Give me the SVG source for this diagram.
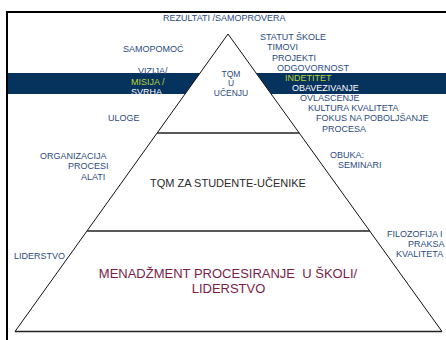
<svg xmlns="http://www.w3.org/2000/svg" width="446" height="340" viewBox="0 0 446 340">
<style>
.lbl{font-family:"Liberation Sans",Arial,sans-serif;font-size:9px;fill:#2b4b80}
.grn{fill:#b8d432}
.wht{fill:#ffffff}
.apex{font-family:"Liberation Sans",Arial,sans-serif;font-size:8.5px;fill:#2b4b80;text-anchor:middle}
.mid{font-family:"Liberation Sans",Arial,sans-serif;font-size:11px;fill:#2a2a2a;text-anchor:middle}
.base{font-family:"Liberation Sans",Arial,sans-serif;font-size:13px;fill:#7b1d48;text-anchor:middle}
.edge{stroke:#111;stroke-width:1;fill:none}
.tier{stroke:#222;stroke-width:1.3;fill:none}
</style>
<rect width="446" height="340" fill="#fff"/>
<g id="band">
<polygon points="8,73 200.1,73 185.1,94 8,94" fill="#06325e"/>
<polygon points="256.1,73 446,73 446,94 271.2,94" fill="#06325e"/>
</g>
<g id="frame"><path d="M7,340 V12 H446" fill="none" stroke="#000" stroke-width="2"/></g>
<g id="connectors">
<path class="edge" d="M15,331.5 L228,34 L442,331.5"/>
<path class="tier" d="M157.2,133 H299.3"/>
<path class="tier" d="M87.2,231 H369.9"/>
<path class="tier" d="M15,331.5 H442"/>
</g>
<g id="tier-top">
<text class="apex" x="231" y="77">TQM</text>
<text class="apex" x="231" y="86">U</text>
<text class="apex" x="231" y="96">UČENJU</text>
</g>
<g id="tier-middle"><text class="mid" x="228" y="187">TQM ZA STUDENTE-UČENIKE</text></g>
<g id="tier-bottom">
<text class="base" x="228" y="277.5" xml:space="preserve">MENADŽMENT PROCESIRANJE  U ŠKOLI/</text>
<text class="base" x="228.5" y="292.5">LIDERSTVO</text>
</g>
<g id="labels-left">
<text class="lbl" x="123" y="51.5">SAMOPOMOĆ</text>
<text class="lbl" x="138" y="73.5">VIZIJA/</text>
<text class="lbl grn" x="131" y="85">MISIJA /</text>
<text class="lbl wht" x="131" y="95">SVRHA</text>
<text class="lbl" x="108" y="121">ULOGE</text>
<text class="lbl" x="40" y="159">ORGANIZACIJA</text>
<text class="lbl" x="68" y="169">PROCESI</text>
<text class="lbl" x="81" y="180">ALATI</text>
<text class="lbl" x="14" y="259">LIDERSTVO</text>
</g>
<g id="labels-top"><text class="lbl" x="163" y="21">REZULTATI /SAMOPROVERA</text></g>
<g id="labels-right">
<text class="lbl" x="260" y="39.5">STATUT ŠKOLE</text>
<text class="lbl" x="267" y="50">TIMOVI</text>
<text class="lbl" x="272" y="60.5">PROJEKTI</text>
<text class="lbl" x="277" y="71">ODGOVORNOST</text>
<text class="lbl grn" x="285" y="81">INDETITET</text>
<text class="lbl wht" x="292" y="91">OBAVEZIVANJE</text>
<text class="lbl" x="300" y="101">OVLASCENJE</text>
<text class="lbl" x="308" y="111">KULTURA KVALITETA</text>
<text class="lbl" x="316" y="121">FOKUS NA POBOLJŠANJE</text>
<text class="lbl" x="322" y="132">PROCESA</text>
<text class="lbl" x="330" y="158">OBUKA:</text>
<text class="lbl" x="338" y="168">SEMINARI</text>
<text class="lbl" x="387" y="237">FILOZOFIJA I</text>
<text class="lbl" x="408" y="247">PRAKSA</text>
<text class="lbl" x="396" y="257">KVALITETA</text>
</g>
</svg>
